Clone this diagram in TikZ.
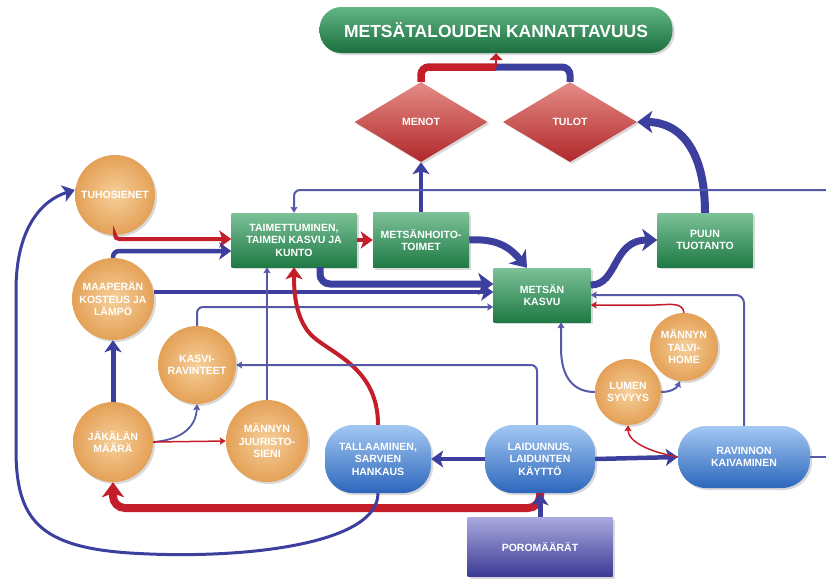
\documentclass[tikz,border=0pt]{standalone}
\usepackage{fontspec}
\setmainfont{Liberation Sans}
\usetikzlibrary{arrows.meta,shapes.geometric,shadows,calc}

\definecolor{lineblue}{HTML}{3D3F9E}
\definecolor{thinblue}{HTML}{5659A8}
\definecolor{linered}{HTML}{C41E2A}
\definecolor{greenT}{HTML}{7CC198}
\definecolor{greenB}{HTML}{1E7A44}
\definecolor{titleT}{HTML}{62B585}
\definecolor{titleB}{HTML}{1B6E3E}
\definecolor{orangeI}{HTML}{F6CF9A}
\definecolor{orangeO}{HTML}{E4A157}
\definecolor{redT}{HTML}{E58C86}
\definecolor{redB}{HTML}{B0282B}
\definecolor{pillT}{HTML}{A3C8F2}
\definecolor{pillB}{HTML}{2C66BC}
\definecolor{purpT}{HTML}{A9A9DE}
\definecolor{purpB}{HTML}{3B3A95}

\begin{document}
\begin{tikzpicture}[x=1pt,y=-1pt,
  lbl/.style={text=white, font=\bfseries\fontsize{10.5}{12.5}\selectfont, align=center, inner sep=1pt},
  shade/.style={drop shadow={shadow xshift=2pt, shadow yshift=-2pt, opacity=0.3}},
  greenbox/.style={lbl, shade, rectangle, top color=greenT, bottom color=greenB},
  titlebox/.style={shade, rectangle, rounded corners=22pt, top color=titleT, bottom color=titleB,
    text=white, font=\bfseries\fontsize{17.5}{20}\selectfont},
  ball/.style={lbl, shade, circle, inner color=orangeI, outer color=orangeO},
  rhomb/.style={lbl, shade, diamond, inner sep=0pt, top color=redT, bottom color=redB},
  pill/.style={lbl, shade, rectangle, rounded corners=28pt, top color=pillT, bottom color=pillB},
  purplebox/.style={lbl, shade, rectangle, top color=purpT, bottom color=purpB},
  arrL/.style={-{Stealth[length=15pt,width=22pt,inset=4pt]}},
  arrM/.style={-{Stealth[length=12pt,width=17pt,inset=3pt]}},
  arrS/.style={-{Stealth[length=6pt,width=7pt,inset=1pt]}},
  thickblue/.style={draw=lineblue, line width=7pt},
  midblue/.style={draw=lineblue, line width=4.5pt},
  fineblue/.style={draw=thinblue, line width=2pt},
  thickred/.style={draw=linered, line width=7.5pt},
  midred/.style={draw=linered, line width=4pt},
  finered/.style={draw=linered, line width=1.5pt}
]
\useasboundingbox (0,0) rectangle (826,582);

% ---------- nodes ----------
\node[titlebox, minimum width=353pt, minimum height=46pt] (title) at (496,30) {METSÄTALOUDEN KANNATTAVUUS};
\node[rhomb, minimum width=133pt, minimum height=80pt] (menot) at (421,122) {MENOT};
\node[rhomb, minimum width=134pt, minimum height=80pt] (tulot) at (570,122) {TULOT};

\node[ball, minimum size=80pt] (tuho) at (115,195) {TUHOSIENET};
\node[ball, minimum size=82pt] (maa) at (113,299) {MAAPERÄN\\KOSTEUS JA\\LÄMPÖ};
\node[ball, minimum size=78pt] (kasvi) at (197,365) {KASVI-\\RAVINTEET};
\node[ball, minimum size=80pt] (jak) at (113,442) {JÄKÄLÄN\\MÄÄRÄ};
\node[ball, minimum size=82pt] (juuri) at (267,441) {MÄNNYN\\JUURISTO-\\SIENI};
\node[ball, minimum size=66pt] (lumen) at (628,392) {LUMEN\\SYVYYS};
\node[ball, minimum size=68pt] (talvi) at (684,347) {MÄNNYN\\TALVI-\\HOME};

\node[greenbox, minimum width=125pt, minimum height=54pt] (taim) at (294,240) {TAIMETTUMINEN,\\TAIMEN KASVU JA\\KUNTO};
\node[greenbox, minimum width=96pt, minimum height=55pt] (hoito) at (421,240) {METSÄNHOITO-\\TOIMET};
\node[greenbox, minimum width=97pt, minimum height=54pt] (kasvu) at (542,295) {METSÄN\\KASVU};
\node[greenbox, minimum width=95pt, minimum height=54pt] (puu) at (705,240) {PUUN\\TUOTANTO};

\node[pill, minimum width=106pt, minimum height=68pt] (tall) at (378,459) {TALLAAMINEN,\\SARVIEN\\HANKAUS};
\node[pill, minimum width=110pt, minimum height=68pt] (laid) at (540,459) {LAIDUNNUS,\\LAIDUNTEN\\KÄYTTÖ};
\node[pill, minimum width=132pt, minimum height=62pt] (rav) at (744,457) {RAVINNON\\KAIVAMINEN};
\node[purplebox, minimum width=145pt, minimum height=59pt] (poro) at (540,547) {POROMÄÄRÄT};

% ---------- helper points ----------
\coordinate (topjoin) at (496,67);
\coordinate (east190) at (826,190);
\coordinate (east456) at (826,457);
\coordinate (redcorner) at (113,508);

% ---------- top: expenses and income into profitability ----------
\draw[thickred, rounded corners=8pt] (menot.north) |- (topjoin);
\draw[thickblue, rounded corners=8pt] (tulot.north) |- (topjoin);
\draw[draw=linered, line width=2pt, -{Triangle[length=7pt,width=13pt]}] (topjoin) -- (title.south);

\draw[midblue, arrM] (hoito.north) -- (hoito.north |- menot.south);
\draw[thickblue, line width=8pt, arrL] (puu.north) .. controls (705,150) and (680,122) .. (tulot.east);

% ---------- forest growth chain ----------
\draw[midred, arrM] (taim.east) -- (hoito.west);
\draw[thickblue, arrL] (hoito.east) .. controls (500,238) and (512,250) .. ([xshift=-15pt]kasvu.north);
\draw[thickblue, arrL] ([yshift=10pt]kasvu.east) .. controls (618,285) and (612,240) .. (puu.west);
\draw[thickblue, rounded corners=10pt, arrL] ([xshift=26pt]taim.south) |- ([yshift=11pt]kasvu.west);
\draw[midblue, arrM] ([yshift=7pt]maa.east) -- ([yshift=3pt]kasvu.west);
\draw[fineblue, rounded corners=6pt, arrS] (kasvi.north) |- ([yshift=-12pt]kasvu.west);

% ---------- into seedling establishment ----------
\draw[midred, rounded corners=4pt, arrM] (tuho.south) |- ([yshift=1pt]taim.west);
\draw[midblue, rounded corners=6pt, arrM] (maa.north) |- ([yshift=-11pt]taim.west);
\draw[fineblue, rounded corners=6pt, arrS] (east190) -| (taim.north);
\draw[fineblue, arrS] (juuri.north) -- (juuri.north |- taim.south);
\draw[midred, arrM] (tall.north) .. controls (378,362) and (322,352) .. (307,330)
      .. controls (296,314) and (294,295) .. (taim.south);

% ---------- lichen and soil ----------
\draw[midblue, line width=5pt, arrM] (jak.north) -- (maa.south);
\draw[draw=thinblue, line width=1.8pt, arrS] (jak.east) .. controls (180,440) and (196,428) .. (kasvi.south);
\draw[finered, arrS] (jak.east) -- (juuri.west);
\draw[fineblue, rounded corners=6pt, arrS] ([xshift=-3pt]laid.north) |- (kasvi.east);

% ---------- grazing ----------
\draw[thickred, line width=8pt, rounded corners=12pt, arrL] (laid.south) |- (redcorner) -- (jak.south);
\draw[midblue, line width=5pt, arrM] (poro.north) -- (laid.south);
\draw[midblue, arrM] (laid.west) -- (tall.east);
\draw[midblue, arrM] (laid.east) -- (rav.west);
\draw[draw=lineblue, line width=3pt, arrM] (tall.south) .. controls (378,545) and (240,560) .. (130,553)
      .. controls (40,547) and (16,520) .. (16,450) -- (16,290)
      .. controls (16,228) and (42,200) .. ([yshift=5pt]tuho.west);

% ---------- snow, winter fungus and digging ----------
\draw[draw=thinblue, line width=1.5pt] (rav.east) -- (east456);
\draw[fineblue, rounded corners=8pt, arrS] (rav.north) |- (kasvu.east);
\draw[finered, arrS] (talvi.north) to[out=95,in=0] (655,305) -- ([yshift=-10pt]kasvu.east);
\draw[fineblue, arrS] (lumen.west) .. controls (574,392) and (561,378) .. (561,348) -- ([xshift=19pt]kasvu.south);
\draw[fineblue, arrS] (lumen.east) to[out=0,in=-115] ([xshift=-4pt]talvi.south);
\draw[finered, arrS] (rav.west) .. controls (650,452) and (628,442) .. (lumen.south);
\end{tikzpicture}
\end{document}
